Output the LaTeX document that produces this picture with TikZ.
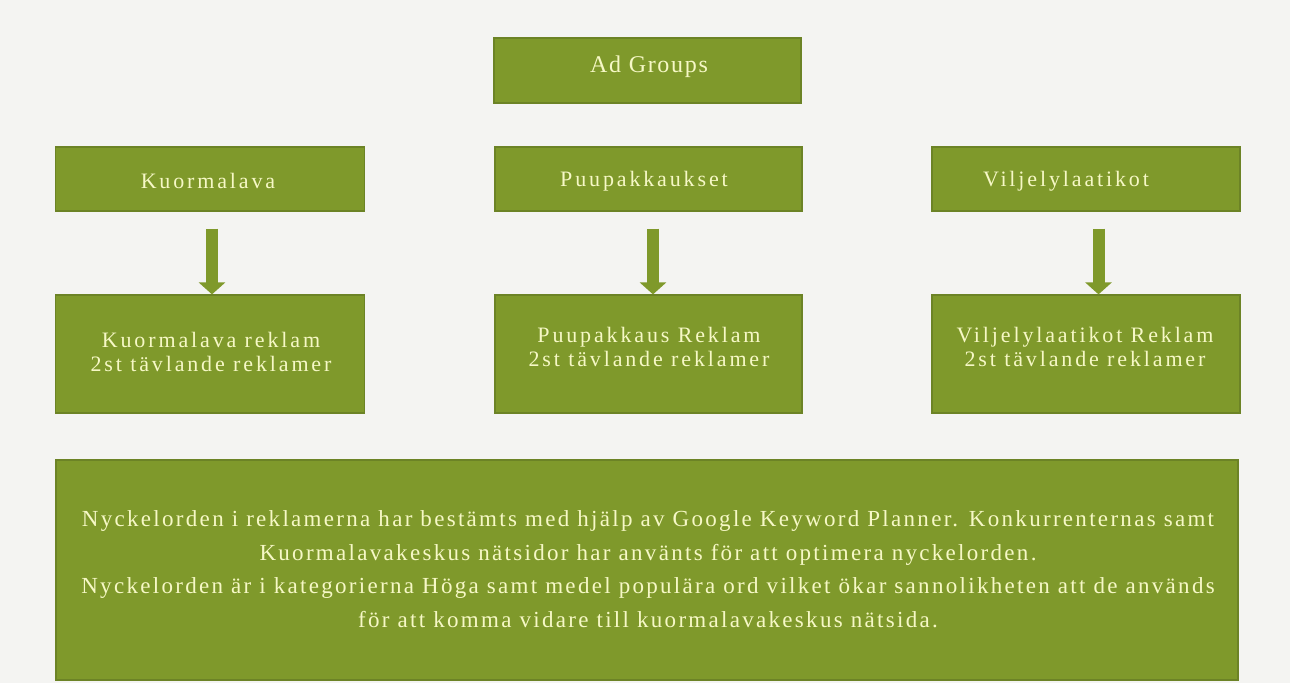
\documentclass[tikz,border=0pt]{standalone}
\usepackage{fontspec}
\usepackage{xcolor}
\usepackage{tikz}
\usetikzlibrary{arrows.meta}
\newfontfamily\boxface{Liberation Serif}[LetterSpace=13]
\newfontfamily\infoface{Liberation Serif}[LetterSpace=10]
\newfontfamily\headface{Liberation Serif}[LetterSpace=7]
\definecolor{paper}{HTML}{F4F4F2}
\definecolor{leaf}{HTML}{7F992B}
\definecolor{leafline}{HTML}{6C8326}
\definecolor{cream}{HTML}{F6F8C6}
\tikzset{
  box/.style={draw=leafline, fill=leaf, line width=1.2pt, inner sep=0pt},
  boxtext/.style={text=cream, align=center, inner sep=0pt, font=\boxface\fontsize{22}{24}\selectfont},
  flow/.style={draw=leaf, line width=12pt, -{Triangle[width=26pt,length=12pt]}},
}

\begin{document}
\begin{tikzpicture}[x=1pt,y=-1pt]
  \useasboundingbox (0,0) rectangle (1290,683);
  \fill[paper] (0,0) rectangle (1290,683);

  \node[box, minimum width=307, minimum height=65] (adgroups) at (647.5,70.5) {};
  \node[boxtext, font=\headface\fontsize{24}{26}\selectfont] (adgroupstxt) at (649,67) {Ad Groups};

  % category boxes
  \node[box, minimum width=309, minimum height=64] (kuorm) at (210,179) {};
  \node[box, minimum width=307, minimum height=64] (puu) at (648.5,179) {};
  \node[box, minimum width=308, minimum height=64] (vilj) at (1086,179) {};
  \node[boxtext] (kuormtxt) at (208,181) {Kuormalava};
  \node[boxtext] (puutxt) at (644,181) {Puupakkaukset};
  \node[boxtext] (viljtxt) at (1066,181) {Viljelylaatikot};

  % ad boxes
  \node[box, minimum width=309, minimum height=118] (kuormad) at (210,354) {};
  \node[box, minimum width=307, minimum height=118] (puuad) at (648.5,354) {};
  \node[box, minimum width=308, minimum height=118] (viljad) at (1086,354) {};
  \node[boxtext] (kuormadtxt) at (211,352) {Kuormalava reklam\\2st tävlande reklamer};
  \node[boxtext] (puuadtxt) at (649,347) {Puupakkaus Reklam\\2st tävlande reklamer};
  \node[boxtext] (viljadtxt) at (1085,347) {Viljelylaatikot Reklam\\2st tävlande reklamer};

  \draw[flow, shorten <=17pt] ([xshift=2]kuorm.south) -- ([xshift=2]kuormad.north);
  \draw[flow, shorten <=17pt] ([xshift=4.5]puu.south) -- ([xshift=4.5]puuad.north);
  \draw[flow, shorten <=17pt] ([xshift=12.5]vilj.south) -- ([xshift=12.5]viljad.north);

  \node[box, minimum width=1182, minimum height=220] (info) at (647,570) {};
  \node[boxtext, font=\infoface\fontsize{23}{33.5}\selectfont] (infotxt) at (648,569)
    {Nyckelorden i reklamerna har bestämts med hjälp av Google Keyword Planner. Konkurrenternas samt\\
     Kuormalavakeskus nätsidor har använts för att optimera nyckelorden.\\
     Nyckelorden är i kategorierna Höga samt medel populära ord vilket ökar sannolikheten att de används\\
     för att komma vidare till kuormalavakeskus nätsida.};
\end{tikzpicture}
\end{document}
